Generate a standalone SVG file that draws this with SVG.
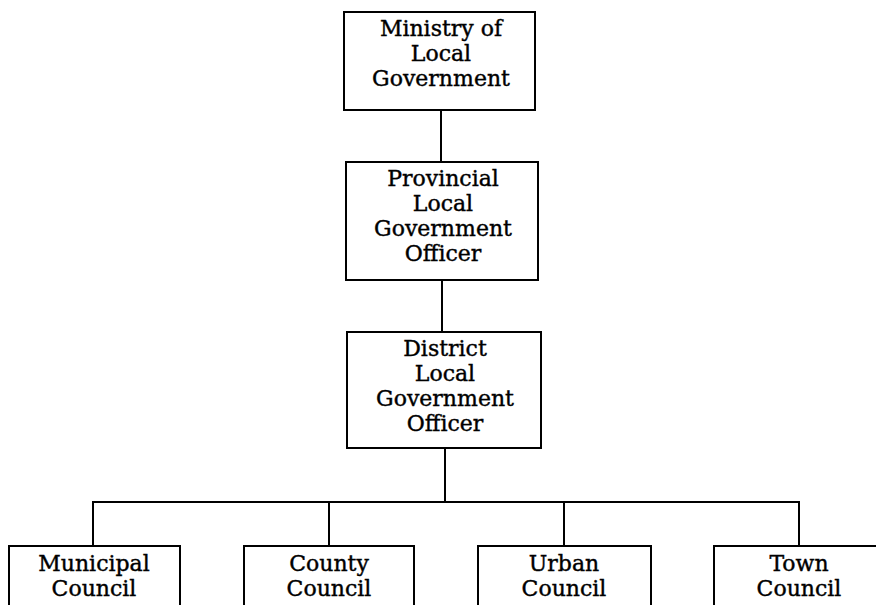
<svg xmlns="http://www.w3.org/2000/svg" width="876" height="605" viewBox="0 0 876 605">
<style>
.box{fill:#fff;stroke:#000;stroke-width:2}
.t{font-family:"DejaVu Serif","Liberation Serif",serif;font-size:22px;fill:#000;stroke:#000;stroke-width:0.4;text-anchor:middle}
.c{stroke:#000;stroke-width:2;fill:none}
</style>
<rect width="876" height="605" fill="#fff"/>
<g id="connectors">
<line class="c" x1="441" y1="110" x2="441" y2="162"/>
<line class="c" x1="442" y1="280" x2="442" y2="332"/>
<line class="c" x1="445" y1="448" x2="445" y2="502"/>
<polyline class="c" points="93,546 93,502 799,502 799,546"/>
<line class="c" x1="329" y1="502" x2="329" y2="546"/>
<line class="c" x1="564" y1="502" x2="564" y2="546"/>
</g>
<g id="ministry">
<rect class="box" x="344" y="12" width="191" height="98"/>
<text class="t" x="441" y="36">Ministry of</text>
<text class="t" x="441" y="61">Local</text>
<text class="t" x="441" y="86">Government</text>
</g>
<g id="provincial">
<rect class="box" x="346" y="162" width="192" height="118"/>
<text class="t" x="443" y="186">Provincial</text>
<text class="t" x="443" y="211">Local</text>
<text class="t" x="443" y="236">Government</text>
<text class="t" x="443" y="261">Officer</text>
</g>
<g id="district">
<rect class="box" x="347" y="332" width="194" height="116"/>
<text class="t" x="445" y="356">District</text>
<text class="t" x="445" y="381">Local</text>
<text class="t" x="445" y="406">Government</text>
<text class="t" x="445" y="431">Officer</text>
</g>
<g id="municipal">
<rect class="box" x="9" y="546" width="171" height="70"/>
<text class="t" x="94" y="571">Municipal</text>
<text class="t" x="94" y="596">Council</text>
</g>
<g id="county">
<rect class="box" x="244" y="546" width="170" height="70"/>
<text class="t" x="329" y="571">County</text>
<text class="t" x="329" y="596">Council</text>
</g>
<g id="urban">
<rect class="box" x="478" y="546" width="173" height="70"/>
<text class="t" x="564" y="571">Urban</text>
<text class="t" x="564" y="596">Council</text>
</g>
<g id="town">
<rect class="box" x="714" y="546" width="170" height="70"/>
<text class="t" x="799" y="571">Town</text>
<text class="t" x="799" y="596">Council</text>
</g>
</svg>
